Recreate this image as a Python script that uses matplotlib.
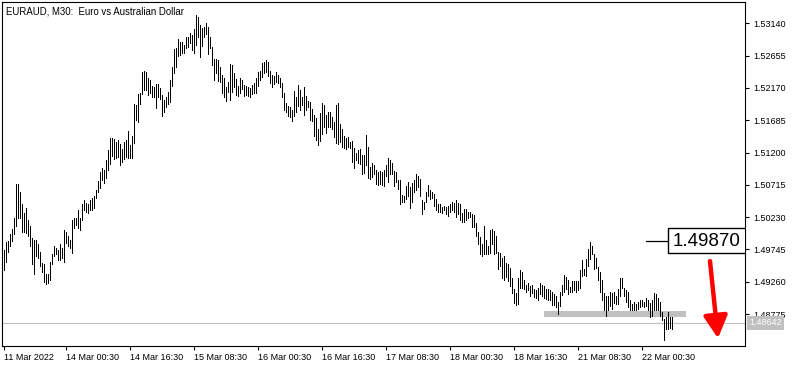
import matplotlib
matplotlib.use('Agg')
import matplotlib.pyplot as plt
import matplotlib.transforms as mtransforms
from matplotlib.patches import Rectangle
import pandas as pd

plt.rcParams['font.family'] = ['Liberation Sans', 'DejaVu Sans']

chart_title = 'EURAUD, M30:  Euro vs Australian Dollar'

# bar highs / lows (M30 bars, oldest first)
high = [
    1.4974, 1.4986, 1.4987, 1.4997, 1.5005, 1.5022, 1.5072, 1.5073, 1.5061, 1.5043,
    1.5029, 1.5037, 1.5019, 1.5009, 1.4992, 1.4989, 1.4989, 1.4983, 1.4971, 1.4954,
    1.4952, 1.4938, 1.4938, 1.4955, 1.4968, 1.4980, 1.4977, 1.4974, 1.4983, 1.4977,
    1.5003, 1.5001, 1.4994, 1.4989, 1.5019, 1.5022, 1.5022, 1.5034, 1.5022, 1.5043,
    1.5048, 1.5044, 1.5043, 1.5049, 1.5052, 1.5055, 1.5064, 1.5077, 1.5091, 1.5097,
    1.5094, 1.5109, 1.5124, 1.5142, 1.5142, 1.5140, 1.5136, 1.5139, 1.5133, 1.5125,
    1.5136, 1.5139, 1.5153, 1.5132, 1.5145, 1.5193, 1.5192, 1.5208, 1.5209, 1.5241,
    1.5243, 1.5241, 1.5232, 1.5229, 1.5220, 1.5219, 1.5223, 1.5223, 1.5217, 1.5207,
    1.5199, 1.5204, 1.5211, 1.5229, 1.5248, 1.5275, 1.5277, 1.5290, 1.5286, 1.5286,
    1.5281, 1.5293, 1.5294, 1.5300, 1.5296, 1.5305, 1.5326, 1.5323, 1.5312, 1.5307,
    1.5309, 1.5314, 1.5308, 1.5294, 1.5279, 1.5260, 1.5260, 1.5259, 1.5248, 1.5237,
    1.5232, 1.5219, 1.5226, 1.5253, 1.5252, 1.5240, 1.5230, 1.5220, 1.5232, 1.5229,
    1.5221, 1.5220, 1.5218, 1.5217, 1.5221, 1.5224, 1.5232, 1.5241, 1.5243, 1.5254,
    1.5256, 1.5259, 1.5256, 1.5243, 1.5237, 1.5235, 1.5241, 1.5237, 1.5232, 1.5225,
    1.5210, 1.5195, 1.5190, 1.5189, 1.5184, 1.5213, 1.5203, 1.5221, 1.5214, 1.5204,
    1.5219, 1.5205, 1.5198, 1.5196, 1.5185, 1.5176, 1.5172, 1.5155, 1.5180, 1.5195,
    1.5192, 1.5176, 1.5181, 1.5181, 1.5173, 1.5166, 1.5192, 1.5195, 1.5163, 1.5155,
    1.5145, 1.5142, 1.5143, 1.5136, 1.5138, 1.5127, 1.5119, 1.5124, 1.5125, 1.5117,
    1.5117, 1.5147, 1.5129, 1.5099, 1.5105, 1.5102, 1.5094, 1.5091, 1.5093, 1.5091,
    1.5094, 1.5102, 1.5112, 1.5109, 1.5104, 1.5093, 1.5091, 1.5079, 1.5079, 1.5056,
    1.5054, 1.5070, 1.5076, 1.5068, 1.5074, 1.5079, 1.5087, 1.5085, 1.5080, 1.5049,
    1.5046, 1.5061, 1.5071, 1.5064, 1.5061, 1.5058, 1.5050, 1.5042, 1.5042, 1.5038,
    1.5040, 1.5038, 1.5039, 1.5043, 1.5045, 1.5044, 1.5049, 1.5044, 1.5042, 1.5029,
    1.5035, 1.5035, 1.5031, 1.5030, 1.5028, 1.5026, 1.5014, 1.5000, 1.4993, 1.4982,
    1.5009, 1.4989, 1.4980, 1.5004, 1.5005, 1.5002, 1.4994, 1.4970, 1.4969, 1.4962,
    1.4964, 1.4954, 1.4953, 1.4947, 1.4932, 1.4915, 1.4909, 1.4932, 1.4944, 1.4941,
    1.4928, 1.4921, 1.4924, 1.4919, 1.4921, 1.4915, 1.4913, 1.4917, 1.4924, 1.4921,
    1.4919, 1.4915, 1.4915, 1.4913, 1.4911, 1.4908, 1.4905, 1.4896, 1.4910, 1.4921,
    1.4936, 1.4933, 1.4929, 1.4918, 1.4927, 1.4927, 1.4927, 1.4927, 1.4943, 1.4958,
    1.4945, 1.4960, 1.4975, 1.4986, 1.4980, 1.4968, 1.4962, 1.4948, 1.4941, 1.4929,
    1.4909, 1.4905, 1.4904, 1.4911, 1.4909, 1.4910, 1.4904, 1.4915, 1.4932, 1.4932,
    1.4917, 1.4914, 1.4910, 1.4899, 1.4893, 1.4895, 1.4893, 1.4896, 1.4899, 1.4898,
    1.4896, 1.4902, 1.4899, 1.4894, 1.4898, 1.4909, 1.4908, 1.4902, 1.4896, 1.4881,
    1.4870, 1.4873, 1.4881, 1.4873, 1.4873,
]
low = [
    1.4944, 1.4956, 1.4971, 1.4979, 1.4987, 1.4997, 1.5009, 1.5022, 1.5022, 1.5001,
    1.5001, 1.4999, 1.4995, 1.4980, 1.4952, 1.4938, 1.4964, 1.4962, 1.4949, 1.4941,
    1.4926, 1.4923, 1.4924, 1.4928, 1.4952, 1.4964, 1.4967, 1.4958, 1.4959, 1.4962,
    1.4956, 1.4984, 1.4979, 1.4977, 1.4969, 1.5007, 1.5011, 1.5007, 1.5004, 1.5019,
    1.5033, 1.5031, 1.5029, 1.5033, 1.5034, 1.5037, 1.5052, 1.5061, 1.5067, 1.5079,
    1.5074, 1.5082, 1.5094, 1.5103, 1.5115, 1.5110, 1.5112, 1.5114, 1.5101, 1.5106,
    1.5110, 1.5113, 1.5112, 1.5112, 1.5112, 1.5135, 1.5169, 1.5166, 1.5193, 1.5208,
    1.5214, 1.5214, 1.5207, 1.5209, 1.5203, 1.5203, 1.5187, 1.5203, 1.5200, 1.5175,
    1.5181, 1.5189, 1.5193, 1.5196, 1.5220, 1.5239, 1.5249, 1.5265, 1.5267, 1.5270,
    1.5270, 1.5277, 1.5279, 1.5284, 1.5274, 1.5270, 1.5281, 1.5293, 1.5264, 1.5280,
    1.5293, 1.5298, 1.5268, 1.5277, 1.5252, 1.5229, 1.5239, 1.5228, 1.5226, 1.5210,
    1.5204, 1.5198, 1.5211, 1.5199, 1.5211, 1.5219, 1.5207, 1.5205, 1.5209, 1.5215,
    1.5205, 1.5207, 1.5205, 1.5204, 1.5208, 1.5209, 1.5210, 1.5220, 1.5229, 1.5234,
    1.5240, 1.5241, 1.5235, 1.5224, 1.5219, 1.5223, 1.5226, 1.5225, 1.5218, 1.5204,
    1.5184, 1.5181, 1.5175, 1.5174, 1.5168, 1.5175, 1.5181, 1.5190, 1.5184, 1.5192,
    1.5177, 1.5184, 1.5188, 1.5169, 1.5168, 1.5145, 1.5139, 1.5132, 1.5138, 1.5148,
    1.5159, 1.5150, 1.5159, 1.5158, 1.5155, 1.5144, 1.5135, 1.5133, 1.5136, 1.5128,
    1.5127, 1.5125, 1.5129, 1.5127, 1.5106, 1.5097, 1.5109, 1.5104, 1.5103, 1.5088,
    1.5089, 1.5101, 1.5082, 1.5080, 1.5083, 1.5087, 1.5073, 1.5071, 1.5073, 1.5071,
    1.5070, 1.5085, 1.5076, 1.5087, 1.5088, 1.5070, 1.5076, 1.5065, 1.5043, 1.5045,
    1.5046, 1.5050, 1.5054, 1.5037, 1.5045, 1.5060, 1.5063, 1.5068, 1.5054, 1.5028,
    1.5035, 1.5045, 1.5054, 1.5050, 1.5052, 1.5040, 1.5034, 1.5031, 1.5030, 1.5029,
    1.5033, 1.5027, 1.5024, 1.5031, 1.5033, 1.5030, 1.5023, 1.5027, 1.5019, 1.5015,
    1.5016, 1.5018, 1.5022, 1.5023, 1.5008, 1.5008, 1.4994, 1.4982, 1.4968, 1.4964,
    1.4967, 1.4968, 1.4968, 1.4969, 1.4982, 1.4968, 1.4969, 1.4945, 1.4950, 1.4932,
    1.4928, 1.4933, 1.4927, 1.4919, 1.4909, 1.4894, 1.4891, 1.4893, 1.4917, 1.4917,
    1.4915, 1.4911, 1.4913, 1.4905, 1.4909, 1.4903, 1.4902, 1.4899, 1.4908, 1.4904,
    1.4902, 1.4900, 1.4899, 1.4898, 1.4891, 1.4891, 1.4888, 1.4878, 1.4890, 1.4906,
    1.4910, 1.4915, 1.4908, 1.4910, 1.4911, 1.4913, 1.4911, 1.4913, 1.4917, 1.4934,
    1.4936, 1.4935, 1.4949, 1.4960, 1.4967, 1.4945, 1.4947, 1.4929, 1.4911, 1.4899,
    1.4884, 1.4875, 1.4884, 1.4889, 1.4885, 1.4894, 1.4893, 1.4893, 1.4904, 1.4917,
    1.4905, 1.4896, 1.4888, 1.4883, 1.4884, 1.4884, 1.4884, 1.4885, 1.4888, 1.4890,
    1.4888, 1.4890, 1.4884, 1.4873, 1.4875, 1.4883, 1.4884, 1.4884, 1.4875, 1.4869,
    1.4838, 1.4855, 1.4855, 1.4857, 1.4855,
]

price_ticks = [1.48775, 1.49260, 1.49745, 1.50230, 1.50715,
               1.51200, 1.51685, 1.52170, 1.52655, 1.53140]
last_price = 1.48642
level_price = 1.49870       # boxed level with the short leader line
support_price = 1.48780     # thick grey line under the recent lows
first_bar_time = '2022-03-11 09:00'

# bar times, weekends skipped
times = pd.date_range(first_bar_time, periods=len(high) * 2, freq='30min')
times = times[times.dayofweek < 5][:len(high)]
idx = list(range(len(high)))

W, H = 798, 367
fig = plt.figure(figsize=(W / 100, H / 100), dpi=100)
ax = fig.add_axes([2 / W, 21 / H, 743 / W, 344 / H])
ax.set_xlim(-1, 370.5)
ax.set_ylim(1.48295, 1.53460)

ax.axhline(last_price, color='#c0c0c0', lw=0.8, zorder=1)
ax.add_patch(Rectangle((270, support_price - 0.00045), 71, 0.0009,
                       fc='#c0c0c0', ec='none', zorder=2))
ax.vlines(idx, low, high, colors='black', lw=0.6, antialiased=False, zorder=3)

# level box
ax.plot([321, 332], [level_price, level_price], color='black', lw=0.9, zorder=4)
ax.add_patch(Rectangle((332, level_price - 0.00175), 40, 0.0037,
                       fc='white', ec='black', lw=1.0, zorder=4, clip_on=True))
ax.text(334.5, level_price, f'{level_price:.5f}', fontsize=13.5,
        va='center', ha='left', zorder=5)

# red arrow
ax.annotate('', xy=(357, 1.4841), xytext=(353, 1.4957),
            arrowprops=dict(arrowstyle='-|>,head_length=0.75,head_width=0.4',
                            color='red', lw=3.2, mutation_scale=18,
                            shrinkA=0, shrinkB=0), zorder=6)

for s in ax.spines.values():
    s.set_linewidth(0.8)

ax.yaxis.tick_right()
ax.set_yticks(price_ticks)
ax.set_yticklabels([f'{p:.5f}' for p in price_ticks])
ax.tick_params(axis='y', direction='out', length=3, width=0.8, labelsize=6.5, pad=3)

xt = list(range(31, len(high), 32))
ax.set_xticks([0] + xt)
ax.set_xticklabels([times[0].strftime('%d %b %Y')] + [times[i].strftime('%d %b %H:%M') for i in xt])
for lab in ax.get_xticklabels():
    lab.set_horizontalalignment('left')
ax.tick_params(axis='x', direction='out', length=3, width=0.8, labelsize=6.5, pad=2)

trans = mtransforms.blended_transform_factory(ax.transAxes, ax.transData)
ax.text(1.006, last_price, f'{last_price:.5f}', transform=trans, color='white',
        fontsize=6.5, va='center', ha='left',
        bbox=dict(boxstyle='square,pad=0.25', fc='#c0c0c0', ec='none'))

ax.text(0.005, 0.988, chart_title, transform=ax.transAxes, fontsize=6.9,
        va='top', ha='left')

fig.savefig('out.png', dpi=100, facecolor='white')
